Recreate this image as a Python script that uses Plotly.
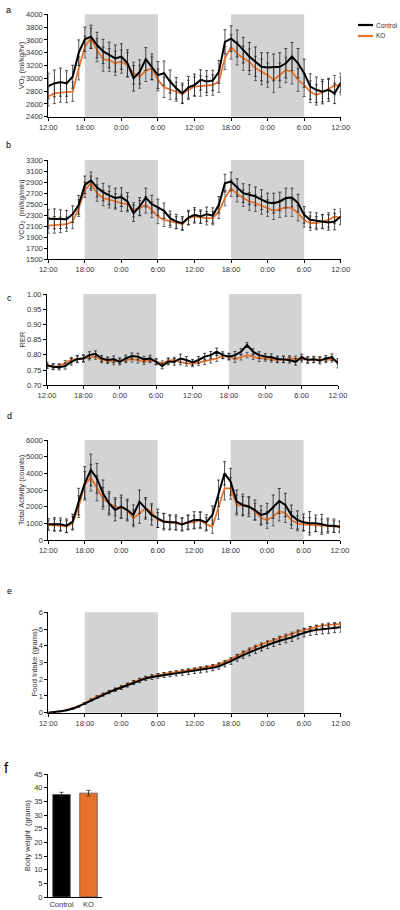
import plotly.graph_objects as go

hours = list(range(49))
time_ticks = [0, 6, 12, 18, 24, 30, 36, 42, 48]
time_labels = ["12:00", "18:00", "0:00", "6:00", "12:00", "18:00", "0:00", "6:00", "12:00"]
dark_periods = [(6, 18), (30, 42)]

# Panel a: VO2 (ml/kg/hr)
vo2_ctrl = [2880, 2920, 2940, 2920, 3025, 3400, 3610, 3650, 3520, 3420, 3365, 3310, 3340,
            3235, 3000, 3100, 3300, 3180, 3050, 3080, 2950, 2845, 2765, 2860, 2895, 2975,
            2950, 2965, 3100, 3570, 3620, 3545, 3440, 3340, 3260, 3180, 3170, 3170, 3180,
            3235, 3340, 3235, 3080, 2870, 2820, 2790, 2820, 2765, 2930]
vo2_ko = [2715, 2765, 2775, 2780, 2790, 3155, 3490, 3625, 3440, 3300, 3285, 3235, 3260,
          3210, 3080, 3025, 3120, 3155, 2975, 2860, 2820, 2790, 2755, 2820, 2870, 2880,
          2880, 2895, 2950, 3315, 3490, 3390, 3315, 3260, 3155, 3100, 3050, 2975, 3050,
          3130, 3100, 2975, 2895, 2790, 2740, 2790, 2830, 2895, 2880]
vo2_ctrl_err = [200, 210, 220, 200, 180, 200, 190, 180, 200, 190, 200, 210, 200,
                210, 200, 190, 180, 200, 210, 190, 180, 170, 160, 170, 170, 160,
                170, 160, 180, 190, 200, 210, 200, 220, 230, 220, 230, 210, 220,
                230, 220, 230, 220, 200, 200, 190, 180, 160, 150]
vo2_ko_err = [150, 160, 150, 160, 150, 180, 170, 160, 180, 190, 180, 190, 180,
              190, 170, 180, 170, 180, 170, 160, 150, 150, 140, 150, 150, 160,
              150, 160, 170, 180, 190, 180, 190, 200, 190, 200, 190, 200, 190,
              200, 190, 180, 180, 170, 160, 160, 150, 150, 140]

# Panel b: VCO2 (ml/kg/min)
vco2_ctrl = [2233, 2233, 2227, 2227, 2318, 2488, 2850, 2930, 2800, 2718, 2658, 2610, 2627,
             2548, 2336, 2458, 2620, 2500, 2440, 2380, 2245, 2185, 2155, 2258, 2306, 2276,
             2318, 2294, 2488, 2880, 2910, 2800, 2700, 2670, 2640, 2580, 2530, 2518, 2548,
             2610, 2620, 2518, 2306, 2215, 2203, 2185, 2167, 2185, 2276]
vco2_ko = [2112, 2124, 2124, 2136, 2185, 2427, 2760, 2880, 2700, 2610, 2580, 2548, 2518,
           2500, 2397, 2427, 2488, 2397, 2276, 2215, 2197, 2167, 2136, 2245, 2276, 2258,
           2245, 2245, 2367, 2610, 2790, 2682, 2610, 2548, 2518, 2476, 2427, 2380, 2409,
           2440, 2427, 2336, 2215, 2155, 2155, 2185, 2215, 2276, 2245]
vco2_ctrl_err = [170, 180, 170, 160, 150, 170, 160, 150, 170, 160, 170, 180, 170,
                 160, 150, 160, 170, 160, 150, 140, 130, 130, 120, 130, 130, 120,
                 130, 140, 150, 160, 170, 160, 170, 180, 170, 180, 170, 180, 170,
                 180, 170, 160, 150, 140, 140, 130, 140, 150, 140]
vco2_ko_err = [140, 150, 140, 130, 130, 150, 140, 130, 150, 140, 150, 140, 150,
               140, 130, 140, 150, 140, 130, 120, 120, 110, 110, 120, 120, 110,
               120, 120, 130, 140, 150, 140, 150, 160, 150, 160, 150, 160, 150,
               160, 150, 140, 130, 130, 120, 120, 130, 130, 120]

# Panel c: RER
rer_ctrl = [0.766, 0.761, 0.759, 0.763, 0.777, 0.786, 0.788, 0.799, 0.803, 0.788, 0.783, 0.785, 0.777,
            0.788, 0.796, 0.794, 0.785, 0.788, 0.777, 0.763, 0.777, 0.777, 0.788, 0.783, 0.775, 0.783,
            0.794, 0.799, 0.810, 0.799, 0.794, 0.799, 0.810, 0.832, 0.810, 0.799, 0.794, 0.792, 0.786,
            0.785, 0.783, 0.777, 0.792, 0.783, 0.785, 0.781, 0.788, 0.792, 0.772]
rer_ko = [0.763, 0.761, 0.763, 0.772, 0.783, 0.786, 0.788, 0.792, 0.794, 0.783, 0.781, 0.777, 0.781,
          0.783, 0.785, 0.783, 0.777, 0.783, 0.777, 0.772, 0.781, 0.783, 0.777, 0.772, 0.770, 0.774,
          0.777, 0.783, 0.788, 0.796, 0.794, 0.785, 0.792, 0.799, 0.794, 0.788, 0.788, 0.785, 0.783,
          0.785, 0.788, 0.787, 0.785, 0.783, 0.783, 0.785, 0.783, 0.785, 0.777]
rer_ctrl_err = [0.010, 0.010, 0.009, 0.010, 0.011, 0.012, 0.012, 0.011, 0.010, 0.010, 0.010, 0.011, 0.010,
                0.011, 0.010, 0.011, 0.010, 0.011, 0.010, 0.009, 0.010, 0.011, 0.014, 0.011, 0.010, 0.011,
                0.011, 0.012, 0.012, 0.011, 0.011, 0.012, 0.010, 0.008, 0.010, 0.011, 0.010, 0.011, 0.010,
                0.011, 0.010, 0.011, 0.010, 0.011, 0.010, 0.011, 0.010, 0.011, 0.015]
rer_ko_err = [0.008, 0.008, 0.008, 0.009, 0.009, 0.010, 0.010, 0.009, 0.009, 0.009, 0.009, 0.010, 0.009,
              0.009, 0.009, 0.010, 0.009, 0.009, 0.009, 0.008, 0.009, 0.009, 0.010, 0.009, 0.009, 0.009,
              0.009, 0.010, 0.010, 0.009, 0.009, 0.010, 0.009, 0.009, 0.009, 0.010, 0.009, 0.009, 0.009,
              0.010, 0.009, 0.009, 0.009, 0.009, 0.009, 0.009, 0.009, 0.009, 0.010]

# Panel d: Total Activity (counts)
act_ctrl = [940, 940, 940, 860, 1100, 2300, 3400, 4200, 3700, 2800, 2200, 1800, 2000,
            1800, 1500, 2300, 1900, 1500, 1300, 1100, 1060, 1060, 940, 1060, 1200, 1200,
            1060, 1500, 2800, 4000, 3500, 2300, 2100, 2000, 1800, 1500, 1600, 2000, 2340,
            2100, 1500, 1200, 1060, 1000, 1000, 940, 860, 860, 800]
act_ko = [900, 900, 860, 800, 1000, 2000, 3300, 3740, 3100, 2500, 2200, 2000, 1940,
          1800, 1300, 1600, 1900, 1700, 1200, 1140, 1060, 1000, 940, 1060, 1060, 1200,
          940, 800, 1900, 3100, 3100, 2100, 2060, 2060, 1700, 1340, 1200, 1400, 1740,
          1600, 1200, 1000, 940, 900, 900, 860, 860, 800, 800]
act_ctrl_err = [350, 400, 380, 400, 450, 800, 1000, 950, 900, 800, 700, 650, 700,
                650, 600, 700, 650, 600, 550, 500, 450, 450, 400, 450, 500, 500,
                450, 550, 800, 700, 800, 700, 650, 600, 600, 550, 600, 700, 750,
                700, 600, 550, 500, 700, 500, 600, 450, 400, 350]
act_ko_err = [300, 350, 330, 350, 400, 650, 800, 800, 750, 650, 600, 550, 600,
              550, 500, 600, 550, 500, 450, 450, 400, 400, 350, 400, 400, 450,
              400, 400, 650, 700, 650, 600, 550, 500, 500, 450, 500, 550, 600,
              550, 500, 450, 400, 450, 400, 400, 350, 350, 300]

# Panel e: Food Intake (grams), cumulative
food_ctrl = [0.00, 0.03, 0.08, 0.15, 0.24, 0.38, 0.55, 0.75, 0.93, 1.08, 1.23, 1.37, 1.50,
             1.65, 1.80, 1.93, 2.05, 2.13, 2.20, 2.25, 2.30, 2.35, 2.40, 2.45, 2.50, 2.55,
             2.60, 2.68, 2.78, 2.92, 3.08, 3.27, 3.45, 3.60, 3.75, 3.90, 4.05, 4.18, 4.30,
             4.40, 4.50, 4.65, 4.78, 4.88, 4.95, 4.98, 5.02, 5.06, 5.10]
food_ko = [0.00, 0.03, 0.08, 0.16, 0.26, 0.40, 0.58, 0.78, 0.96, 1.12, 1.27, 1.41, 1.55,
           1.70, 1.84, 1.98, 2.10, 2.18, 2.25, 2.32, 2.38, 2.43, 2.49, 2.55, 2.60, 2.66,
           2.72, 2.80, 2.90, 3.05, 3.20, 3.40, 3.60, 3.78, 3.95, 4.08, 4.20, 4.33, 4.47,
           4.60, 4.72, 4.85, 4.95, 5.05, 5.13, 5.20, 5.25, 5.28, 5.30]
food_ctrl_err = [0.00, 0.01, 0.02, 0.03, 0.04, 0.05, 0.06, 0.07, 0.08, 0.09, 0.10, 0.10, 0.11,
                 0.12, 0.12, 0.13, 0.13, 0.14, 0.14, 0.15, 0.15, 0.15, 0.16, 0.16, 0.16, 0.17,
                 0.17, 0.17, 0.18, 0.18, 0.19, 0.19, 0.20, 0.20, 0.21, 0.21, 0.22, 0.22, 0.23,
                 0.23, 0.24, 0.24, 0.25, 0.26, 0.27, 0.27, 0.28, 0.28, 0.29]
food_ko_err = [0.00, 0.01, 0.01, 0.02, 0.02, 0.03, 0.03, 0.04, 0.04, 0.04, 0.05, 0.05, 0.05,
               0.05, 0.06, 0.06, 0.06, 0.06, 0.06, 0.07, 0.07, 0.07, 0.07, 0.07, 0.07, 0.08,
               0.08, 0.08, 0.08, 0.08, 0.08, 0.09, 0.09, 0.09, 0.09, 0.09, 0.09, 0.10, 0.10,
               0.10, 0.10, 0.10, 0.10, 0.10, 0.10, 0.11, 0.11, 0.11, 0.11]

# Panel f: Body weight (grams)
groups = ["Control", "KO"]
body_weight = [37.5, 38.0]
body_weight_err = [0.8, 1.0]

BLACK = "#000000"
ORANGE = "#E8722C"
SHADE = "#D2D3D5"
TXT = "#333333"
FONT = "Liberation Sans, Arial, sans-serif"

fig = go.Figure()


def ydom(top_px, bottom_px):
    return [1 - bottom_px / 910.0, 1 - top_px / 910.0]


def xdom(l, r):
    return [l / 400.0, r / 400.0]


panels = [
    ("", vo2_ctrl, vo2_ko, vo2_ctrl_err, vo2_ko_err, [2400, 4000], 200,
     "VO<sub>2</sub> (ml/kg/hr)", xdom(48.3, 340.7), ydom(14.3, 116.7), None),
    ("2", vco2_ctrl, vco2_ko, vco2_ctrl_err, vco2_ko_err, [1500, 3300], 200,
     "VCO<sub>2</sub>  (ml/kg/min)", xdom(48.3, 340.7), ydom(160, 259.3), None),
    ("3", rer_ctrl, rer_ko, rer_ctrl_err, rer_ko_err, [0.70, 1.00], 0.05,
     "RER", xdom(47, 338), ydom(294, 385.2), ".2f"),
    ("4", act_ctrl, act_ko, act_ctrl_err, act_ko_err, [0, 6000], 1000,
     "Total Activity (counts)", xdom(48.3, 340), ydom(440, 540), None),
    ("5", food_ctrl, food_ko, food_ctrl_err, food_ko_err, [0, 6], 1,
     "Food Intake (grams)", xdom(48.3, 340.7), ydom(612.3, 712.7), None),
]

tickfont = dict(size=7.5, color=TXT, family=FONT)
titlefont = dict(size=7.5, color=TXT, family=FONT)

layout_axes = {}
shapes = []
for key, c, k, ce, ke, yr, dt, title, xd, yd, tf in panels:
    xa = "x" + key
    ya = "y" + key
    fig.add_trace(go.Scatter(
        x=hours, y=k, mode="lines", line=dict(color=ORANGE, width=1.8),
        error_y=dict(type="data", array=ke, visible=True, color="#444444", thickness=0.8, width=1.5),
        xaxis=xa, yaxis=ya, showlegend=False, cliponaxis=False, name="KO"))
    fig.add_trace(go.Scatter(
        x=hours, y=c, mode="lines", line=dict(color=BLACK, width=2.0),
        error_y=dict(type="data", array=ce, visible=True, color="#222222", thickness=0.8, width=1.5),
        xaxis=xa, yaxis=ya, showlegend=False, cliponaxis=False, name="Control"))
    layout_axes["xaxis" + key] = dict(
        domain=xd, anchor=ya, range=[0, 48], tickmode="array", tickvals=time_ticks,
        ticktext=time_labels, showgrid=False, zeroline=False, showline=True, automargin=False,
        linecolor="black", linewidth=1, ticks="outside", ticklen=3, tickcolor="black",
        tickfont=tickfont)
    layout_axes["yaxis" + key] = dict(
        domain=yd, anchor=xa, range=yr, dtick=dt, tick0=yr[0], showgrid=False, zeroline=False,
        showline=True, linecolor="black", linewidth=1, ticks="outside", ticklen=3,
        tickcolor="black", tickformat=tf, automargin=False, tickfont=tickfont,
        title=dict(text=title, font=titlefont, standoff=0))
    for x0, x1 in dark_periods:
        shapes.append(dict(type="rect", xref=xa, yref=ya + " domain", x0=x0, x1=x1, y0=0, y1=1,
                           fillcolor=SHADE, line=dict(width=0), layer="below"))

# Panel f bar chart
fig.add_trace(go.Bar(
    x=groups, y=body_weight, marker=dict(color=[BLACK, ORANGE], line=dict(color="#555555", width=0.8)),
    error_y=dict(type="data", array=body_weight_err, visible=True, color="#222222", thickness=0.8, width=2),
    width=0.65, xaxis="x6", yaxis="y6", showlegend=False))
layout_axes["xaxis6"] = dict(
    domain=xdom(48, 102), anchor="y6", showgrid=False, zeroline=False, showline=True,
    automargin=False, linecolor="black", linewidth=1, ticks="", tickfont=tickfont)
layout_axes["yaxis6"] = dict(
    domain=ydom(774, 897), anchor="x6", range=[0, 45], dtick=5, showgrid=False, zeroline=False,
    showline=True, linecolor="black", linewidth=1, ticks="outside", ticklen=3, tickcolor="black",
    automargin=False, tickfont=tickfont,
    title=dict(text="Body weight  (grams)", font=titlefont, standoff=2))

# Legend (manual)
legend_items = [("Control", BLACK, 25), ("KO", ORANGE, 36)]
annotations = []
for name, col, ypx in legend_items:
    yp = 1 - ypx / 910.0
    shapes.append(dict(type="line", xref="paper", yref="paper", x0=358 / 400, x1=373 / 400,
                       y0=yp, y1=yp, line=dict(color=col, width=2.2)))
    annotations.append(dict(text=name, xref="paper", yref="paper", x=373.5 / 400, y=yp,
                            xanchor="left", yanchor="middle", showarrow=False,
                            font=dict(size=6.5, color=TXT, family=FONT)))

# Panel letters
for letter, xpx, ypx, size in [("a", 8, 10, 9), ("b", 8, 145, 9), ("c", 9, 298, 9),
                               ("d", 9, 416, 9), ("e", 9, 591, 9), ("f", 6, 767, 15)]:
    annotations.append(dict(text=letter, xref="paper", yref="paper", x=xpx / 400, y=1 - ypx / 910,
                            xanchor="center", yanchor="middle", showarrow=False,
                            font=dict(size=size, color="black", family=FONT)))

fig.update_layout(
    width=400, height=910, margin=dict(l=0, r=0, t=0, b=0, pad=0),
    paper_bgcolor="white", plot_bgcolor="white",
    font=dict(family=FONT, size=7.5, color=TXT),
    shapes=shapes, annotations=annotations, bargap=0.35,
    **layout_axes)

fig.write_html("out.html", config={"displayModeBar": False},
               post_script="document.body.style.margin='0';document.body.style.padding='0';")
